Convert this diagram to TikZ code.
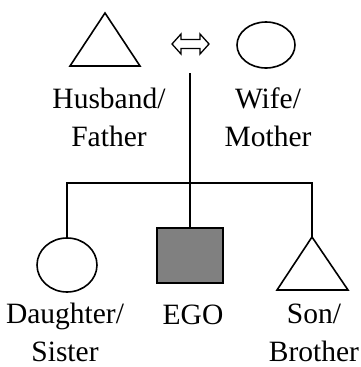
\documentclass[tikz,border=0pt]{standalone}
\usepackage{fontspec}
\setmainfont{Liberation Serif}
\usetikzlibrary{shapes.geometric}
\definecolor{egogray}{RGB}{128,128,128}
\begin{document}
\begin{tikzpicture}[x=1pt,y=-1pt,
  every path/.style={line width=1.6pt},
  lbl/.style={font=\fontsize{29.5}{38.5}\selectfont, align=center, inner sep=0pt, anchor=base},
  shp/.style={draw, inner sep=0pt}]
\useasboundingbox (0,0) rectangle (361,367);
% parents
\draw (70,66) -- (140,66) -- (105,13) -- cycle;
\coordinate (fatherapex) at (105,13);
\node[shp, ellipse, minimum width=58pt, minimum height=46pt] (mother) at (266,45) {};
% marriage symbol
\draw[line width=1.3pt] (172,44) -- (181,34) -- (181,39.5) -- (200,39.5) -- (200,34) -- (209,44)
  -- (200,54) -- (200,48.5) -- (181,48.5) -- (181,54) -- cycle;
\coordinate (marr) at (190,73);
\coordinate (sib) at (190,183);
% children
\node[shp, ellipse, minimum width=60pt, minimum height=54pt] (daughter) at (67,265) {};
\node[shp, fill=egogray, minimum width=66pt, minimum height=55pt] (ego) at (190,255.5) {};
\draw (277,290) -- (348,290) -- (312,237) -- cycle;
\coordinate (son) at (312,237);
% connectors
\draw (marr) -- (ego.north);
\draw (daughter.north) -- (daughter.north |- sib) -- (son |- sib) -- (son);
% labels (base anchor = baseline of last line)
\node[lbl] (lfather) at (109,146.5) {Husband/\\Father};
\node[lbl] (lmother) at (268,146.5) {Wife/\\Mother};
\node[lbl] (ldaughter) at (65,361.5) {Daughter/\\Sister};
\node[lbl] (lego) at (193,324) {EGO};
\node[lbl] (lson) at (314,361.5) {Son/\\Brother};
\end{tikzpicture}
\end{document}
